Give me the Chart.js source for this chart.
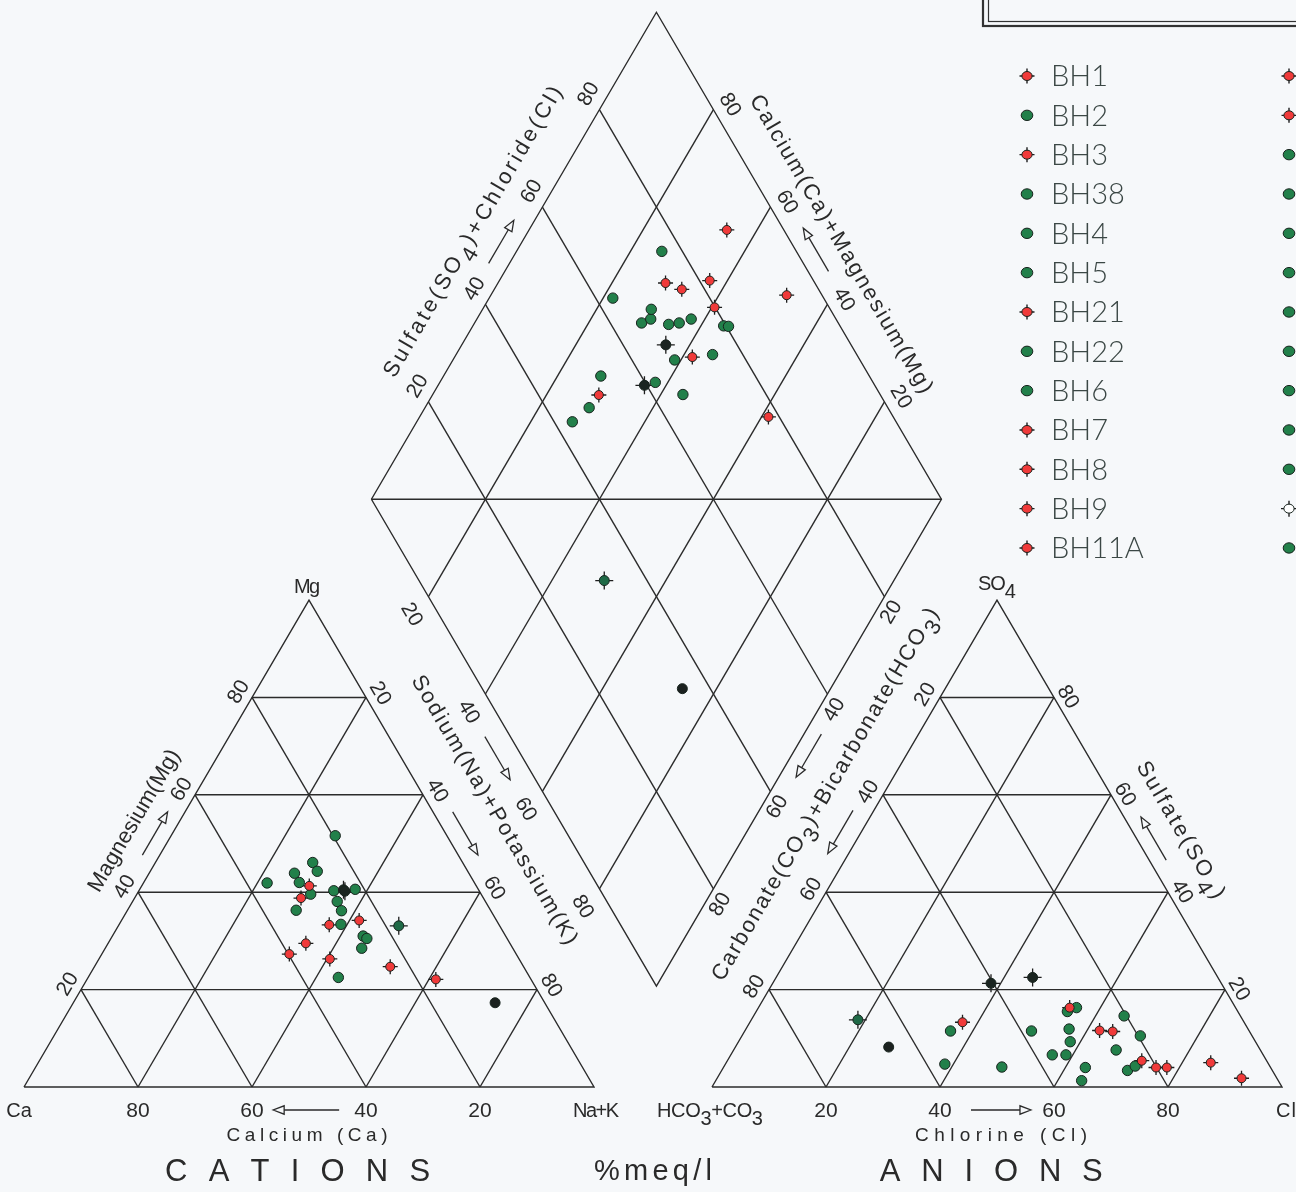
<!DOCTYPE html>
<html><head><meta charset="utf-8">
<script src="https://cdn.jsdelivr.net/npm/chart.js@4.4.1/dist/chart.umd.min.js"></script>
<style>html,body{margin:0;padding:0;background:#f6f8fa;overflow:hidden}canvas{display:block}</style>
</head><body>
<canvas id="c" width="1296" height="1192"></canvas>
<script>
// ================= DATA =================
// marker group of each sample
const SAMPLE_STYLE = [
  'red','red','red','red','red','red','red','red','red',
  'green','green','green','green','green','green','green','green','green',
  'green','green','green','green','green','green','green','green',
  'blackStar','blackStar','greenStar','black'
];
// cations, % meq/l
const CAT_NAK = [34.7,29.4,32.9,36.9,51.9,40.5,41.7,29.2,61.2,
  27.3,28.8,27.6,37.8,21.7,43.9,29.3,38.9,30.5,29.6,34.2,35.9,37.6,45.0,25.5,44.0,44.9,
  35.8,36.2,49.2,74.0];
const CAT_MG = [29.5,41.3,27.3,33.3,24.7,26.3,34.2,38.8,22.1,
  42.0,51.6,46.1,40.6,41.9,22.5,44.3,33.4,39.6,36.3,40.3,38.1,36.2,28.5,43.9,31.0,30.5,
  40.5,40.2,33.1,17.3];
// anions, % meq/l
const AN_CL = [85.0,62.2,64.6,77.8,92.0,75.9,54.6,37.3,72.7,
  38.5,36.1,48.8,50.3,56.4,58.8,64.2,63.5,58.2,56.7,54.6,55.8,71.2,67.1,72.1,65.0,69.9,
  45.0,38.3,18.7,26.9];
const AN_SO4 = [5.0,11.6,11.4,4.0,1.8,4.0,16.3,13.3,5.4,
  4.7,11.5,4.1,11.5,6.6,6.6,1.3,4.0,9.3,11.9,15.5,16.3,3.4,7.6,4.3,14.6,10.5,
  22.5,21.3,13.8,8.2];
const GRID_TICKS = [20,40,60,80];
const LEGEND_LABELS = ['BH1','BH2','BH3','BH38','BH4','BH5','BH21','BH22','BH6','BH7','BH8','BH9','BH11A'];
const LEGEND_STYLES_1 = ['red','green','red','green','green','green','red','green','green','red','red','red','red'];
const LEGEND_STYLES_2 = ['red','red','green','green','green','green','green','green','green','green','green','open','green'];

// ================= GEOMETRY (data units: triangle side = 100) =================
const H = Math.sqrt(3)/2;
const GAP = 20.7, DSHIFT = 0.6;
const AX0 = 100 + GAP;
const DB = {x: 100 + GAP/2 + DSHIFT, y: GAP/2*Math.sqrt(3)};
const DL = {x: DB.x - 50, y: DB.y + 100*H};
const cat = (nak, mg) => ({x: nak + mg/2, y: mg*H});
const an  = (cl, so4) => ({x: AX0 + cl + so4/2, y: so4*H});
const dia = (s, n) => ({x: DL.x + 0.5*(s+n), y: DL.y + H*(s-n)});

const PXU = 5.7, PYU = 5.623, X0PX = 24, BASEPX = 1087;
const X_MIN = -X0PX/PXU, X_MAX = (1296-X0PX)/PXU;
const Y_MAX = BASEPX/PYU, Y_MIN = -(1192-BASEPX)/PYU;

const LINE = '#2b2b2b', TEXT = '#2a2a2a', LEGTEXT = '#3b4745', BG = '#f6f8fa';
const STYLES = {
  red:       {fill:'#f03a3a', r:4.5, spike:7.5},
  green:     {fill:'#22804a', r:5.2, spike:0},
  blackStar: {fill:'#1b2521', r:5.0, spike:9},
  greenStar: {fill:'#1f6a47', r:5.0, spike:9},
  black:     {fill:'#1b211f', r:5.0, spike:0},
  open:      {fill:'#ffffff', r:4.5, spike:8}
};

// ================= DATASETS =================
const datasets = [];
function addLine(pts){
  datasets.push({data: pts, showLine: true, pointRadius: 0, borderColor: LINE,
    borderWidth: 1.4, fill: false, order: 10, tension: 0});
}
// cation triangle
addLine([cat(0,0), cat(100,0), cat(0,100), cat(0,0)]);
GRID_TICKS.forEach(k => {
  addLine([cat(0,k), cat(100-k,k)]);      // Mg = k
  addLine([cat(k,0), cat(k,100-k)]);      // Na+K = k
  addLine([cat(100-k,0), cat(0,100-k)]);  // Ca = k
});
// anion triangle
addLine([an(0,0), an(100,0), an(0,100), an(0,0)]);
GRID_TICKS.forEach(k => {
  addLine([an(0,k), an(100-k,k)]);
  addLine([an(k,0), an(k,100-k)]);
  addLine([an(100-k,0), an(0,100-k)]);
});
// diamond
addLine([dia(0,0), dia(100,0), dia(100,100), dia(0,100), dia(0,0)]);
addLine([dia(0,0), dia(100,100)]);
GRID_TICKS.forEach(k => {
  addLine([dia(k,0), dia(k,100)]);
  addLine([dia(0,k), dia(100,k)]);
});

// sample points, three plotting positions per sample
const groups = {};
SAMPLE_STYLE.forEach((st, i) => {
  const nak = CAT_NAK[i], mg = CAT_MG[i], cl = AN_CL[i], so4 = AN_SO4[i];
  (groups[st] = groups[st] || []).push(cat(nak, mg), an(cl, so4), dia(cl + so4, nak));
});
const circleOrder = {green: 3, black: 2, greenStar: 2, blackStar: 2, red: 1};
Object.keys(groups).forEach(st => {
  const s = STYLES[st];
  if (s.spike) datasets.push({data: groups[st], pointStyle: 'cross', pointRadius: s.spike,
    pointBorderColor: '#1e1e1e', pointBorderWidth: 1.3, showLine: false, order: 5});
  datasets.push({data: groups[st], pointStyle: 'circle', pointRadius: s.r,
    pointBackgroundColor: s.fill, pointBorderColor: '#18241e', pointBorderWidth: 1,
    showLine: false, order: circleOrder[st]});
});

// ================= TEXT HELPERS =================
const FONT = '"Liberation Sans", Arial, sans-serif';
const LEGFONT = '300 29px Lato, "Liberation Sans", sans-serif';
function drawText(ctx, segs, cx, cy, ang, size, target, font){
  ctx.save();
  ctx.font = size + 'px ' + (font || FONT);
  const chars = [];
  segs.forEach(s => {
    const t = Array.isArray(s) ? s[0] : s, sub = Array.isArray(s);
    for (const ch of t) chars.push({ch, sub, w: ctx.measureText(ch).width});
  });
  const nat = chars.reduce((a, c) => a + c.w, 0);
  const sp = (target && chars.length > 1) ? (target - nat)/(chars.length - 1) : 0;
  const total = nat + sp*(chars.length - 1);
  ctx.translate(cx, cy); ctx.rotate(ang);
  ctx.textBaseline = 'middle'; ctx.textAlign = 'left';
  let x = -total/2;
  chars.forEach(c => { ctx.fillText(c.ch, x, c.sub ? size*0.42 : 0); x += c.w + sp; });
  ctx.restore();
}
function drawArrow(ctx, cx, cy, ux, uy, len, dir){
  const hx = cx + dir*ux*len/2, hy = cy + dir*uy*len/2;
  const tx = cx - dir*ux*len/2, ty = cy - dir*uy*len/2;
  const hl = 11, hw = 4.2;
  const bx = hx - dir*ux*hl, by = hy - dir*uy*hl;
  const nx = -uy, ny = ux;
  ctx.save(); ctx.strokeStyle = TEXT; ctx.lineWidth = 1.3;
  ctx.beginPath(); ctx.moveTo(tx, ty); ctx.lineTo(bx, by); ctx.stroke();
  ctx.beginPath(); ctx.moveTo(hx, hy); ctx.lineTo(bx + nx*hw, by + ny*hw);
  ctx.lineTo(bx - nx*hw, by - ny*hw); ctx.closePath(); ctx.stroke();
  ctx.restore();
}
function edgeGeo(a, b){
  const dx = b.x - a.x, dy = b.y - a.y, len = Math.hypot(dx, dy);
  return {dx, dy, ux: dx/len, uy: dy/len};
}
function edgePt(a, b, side, frac, out, along){
  const g = edgeGeo(a, b);
  const nx = side*g.uy, ny = -side*g.ux;
  return {x: a.x + g.dx*frac + nx*out + g.ux*along, y: a.y + g.dy*frac + ny*out + g.uy*along};
}
function drawMarker(ctx, st, x, y){
  const s = STYLES[st];
  ctx.save();
  if (s.spike){
    ctx.strokeStyle = '#1e1e1e'; ctx.lineWidth = 1.4;
    ctx.beginPath(); ctx.moveTo(x - s.spike, y); ctx.lineTo(x + s.spike, y);
    ctx.moveTo(x, y - s.spike); ctx.lineTo(x, y + s.spike); ctx.stroke();
  }
  ctx.beginPath(); ctx.ellipse(x, y, s.r + 0.6, s.r, 0, 0, Math.PI*2);
  ctx.fillStyle = s.fill; ctx.fill();
  ctx.strokeStyle = '#18241e'; ctx.lineWidth = 1; ctx.stroke();
  ctx.restore();
}

const labelsPlugin = {
  id: 'piperLabels',
  beforeDraw(chart){
    const c = chart.ctx; c.save(); c.fillStyle = BG; c.fillRect(0, 0, chart.width, chart.height); c.restore();
  },
  afterDraw(chart){
    const ctx = chart.ctx, sx = chart.scales.x, sy = chart.scales.y;
    const P = p => ({x: sx.getPixelForValue(p.x), y: sy.getPixelForValue(p.y)});
    const CA = P(cat(0,0)), NK = P(cat(100,0)), MG = P(cat(0,100));
    const HC = P(an(0,0)), CLV = P(an(100,0)), SO = P(an(0,100));
    const L = P(dia(0,0)), T = P(dia(100,0)), R = P(dia(100,100)), B = P(dia(0,100));
    ctx.fillStyle = TEXT;
    const edges = [
      {a:L, b:T, side:1, flip:false, fr:k=>k/100, out:17, al:8,
        title:['Sulfate(SO',['4'],')+Chloride(Cl)'], tFr:.5, tOut:47, tLen:333, arFr:.51, arOut:18, arDir:1},
      {a:T, b:R, side:1, flip:false, fr:k=>(100-k)/100, out:16.5, al:4,
        title:['Calcium(Ca)+Magnesium(Mg)'], tFr:.52, tOut:42, tLen:342, arFr:.506, arOut:17.7, arDir:-1},
      {a:L, b:B, side:-1, flip:false, fr:k=>k/100, out:23.7, al:7, arFr:.509, arOut:22, arDir:1},
      {a:R, b:B, side:1, flip:true, fr:k=>k/100, out:14, al:10, arFr:.511, arOut:15, arDir:1},
      {a:CA, b:MG, side:1, flip:false, fr:k=>k/100, out:14, al:-2,
        title:['Magnesium(Mg)'], tFr:.506, tOut:39, tLen:161, arFr:.505, arOut:15, arDir:1},
      {a:MG, b:NK, side:1, flip:false, fr:k=>k/100, out:14, al:3.6,
        title:['Sodium(Na)+Potassium(K)'], tFr:.487, tOut:53.6, tLen:308, arFr:.497, arOut:17, arDir:1},
      {a:HC, b:SO, side:1, flip:false, fr:k=>(100-k)/100, out:14, al:-5,
        title:['Carbonate(CO',['3'],')+Bicarbonate(HCO',['3'],')'], tFr:.549, tOut:49.7, tLen:428, arFr:.505, arOut:18, arDir:-1},
      {a:SO, b:CLV, side:1, flip:false, fr:k=>(100-k)/100, out:12, al:6.6,
        title:['Sulfate(SO',['4'],')'], tFr:.516, tOut:42, tLen:155, arFr:.505, arOut:14.7, arDir:-1}
    ];
    edges.forEach(e => {
      const g = edgeGeo(e.a, e.b);
      const ang = e.flip ? Math.atan2(-g.uy, -g.ux) : Math.atan2(g.uy, g.ux);
      GRID_TICKS.forEach(k => {
        const p = edgePt(e.a, e.b, e.side, e.fr(k), e.out, e.al);
        drawText(ctx, [String(k)], p.x, p.y, ang, 21);
      });
      if (e.title){
        const p = edgePt(e.a, e.b, e.side, e.tFr, e.tOut, 0);
        drawText(ctx, e.title, p.x, p.y, ang, 22, e.tLen);
      }
      const q = edgePt(e.a, e.b, e.side, e.arFr, e.arOut, 0);
      drawArrow(ctx, q.x, q.y, g.ux, g.uy, 50, e.arDir);
    });
    // bottom axes
    const yT = CA.y + 24;
    [80,60,40,20].forEach(k => drawText(ctx, [String(k)], P(cat(100-k,0)).x, yT, 0, 21));
    drawText(ctx, ['Ca'], CA.x - 5, yT, 0, 20);
    drawText(ctx, ['Na+K'], NK.x + 2, yT, 0, 20, 46);
    drawArrow(ctx, P(cat(49.5,0)).x, yT - 1, 1, 0, 66, -1);
    drawText(ctx, ['Calcium (Ca)'], P(cat(50,0)).x - 2, CA.y + 49, 0, 19, 161);
    drawText(ctx, ['CATIONS'], P(cat(48,0)).x, CA.y + 85, 0, 31, 265);
    drawText(ctx, ['%meq/l'], (NK.x + HC.x)/2, CA.y + 85, 0, 29, 118);
    drawText(ctx, ['ANIONS'], P(an(49,0)).x, CA.y + 85, 0, 31, 223);
    drawText(ctx, ['HCO',['3'],'+CO',['3']], HC.x - 2, yT, 0, 20, 106);
    GRID_TICKS.forEach(k => drawText(ctx, [String(k)], P(an(k,0)).x, yT, 0, 21));
    drawText(ctx, ['Cl'], CLV.x + 4, yT, 0, 20, 20);
    drawArrow(ctx, P(an(50.7,0)).x, yT - 1, 1, 0, 60, 1);
    drawText(ctx, ['Chlorine (Cl)'], P(an(50,0)).x + 4, CA.y + 49, 0, 19, 172);
    drawText(ctx, ['Mg'], MG.x - 2, MG.y - 13, 0, 20, 26);
    drawText(ctx, ['SO',['4']], SO.x, SO.y - 16, 0, 20, 38);

    // top-right box (double frame)
    ctx.save(); ctx.strokeStyle = '#333';
    ctx.lineWidth = 2.2; ctx.strokeRect(983, -20, 400, 46);
    ctx.lineWidth = 1.2; ctx.strokeRect(988.5, -20, 400, 41.5);
    ctx.restore();

    // legend
    const y0 = 76, dy = 39.33;
    LEGEND_LABELS.forEach((lab, i) => {
      drawMarker(ctx, LEGEND_STYLES_1[i], 1027, y0 + i*dy);
      ctx.save(); ctx.fillStyle = LEGTEXT; ctx.font = LEGFONT;
      ctx.textBaseline = 'middle'; ctx.textAlign = 'left';
      ctx.fillText(lab, 1051, y0 + i*dy + 1); ctx.restore();
    });
    LEGEND_STYLES_2.forEach((st, i) => drawMarker(ctx, st, 1289, y0 + i*dy));
  }
};

new Chart(document.getElementById('c'), {
  type: 'scatter',
  data: {datasets},
  options: {
    responsive: false, animation: false, events: [], devicePixelRatio: 1,
    layout: {padding: 0, autoPadding: false},
    plugins: {legend: {display: false}, tooltip: {enabled: false}},
    scales: {
      x: {type: 'linear', min: X_MIN, max: X_MAX, display: false},
      y: {type: 'linear', min: Y_MIN, max: Y_MAX, display: false}
    }
  },
  plugins: [labelsPlugin]
});
</script>
</body></html>
